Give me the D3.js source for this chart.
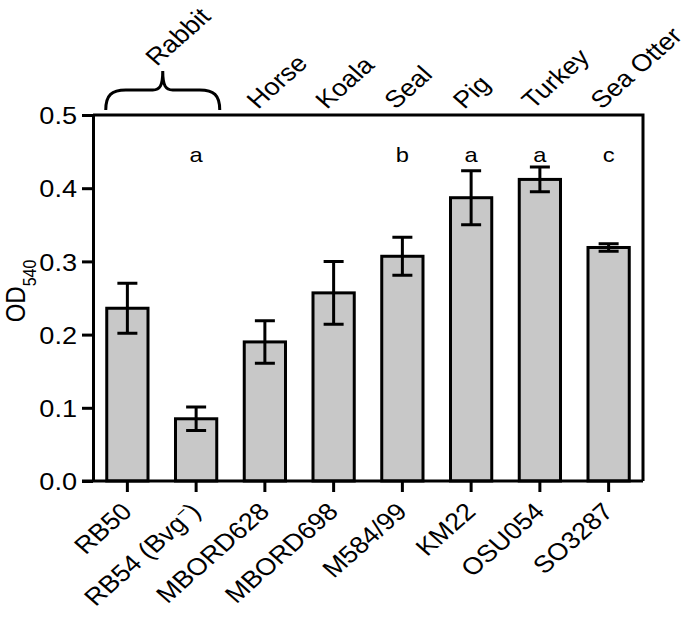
<!DOCTYPE html>
<html>
<head>
<meta charset="utf-8">
<script src="https://cdn.jsdelivr.net/npm/d3@7"></script>
<style>
  body { margin: 0; background: #fff; }
  svg text { font-family: Arial, "Liberation Sans", sans-serif; fill: #000; }
</style>
</head>
<body>
<div id="chart"></div>
<script>
// strains, host animals and readings
const strains = ['RB50', 'RB54', 'MBORD628', 'MBORD698', 'M584/99', 'KM22', 'OSU054', 'SO3287'];
const hosts = [null, null, 'Horse', 'Koala', 'Seal', 'Pig', 'Turkey', 'Sea Otter'];
const means = [0.236, 0.085, 0.190, 0.257, 0.307, 0.387, 0.412, 0.319];
const errors = [0.034, 0.016, 0.029, 0.043, 0.026, 0.037, 0.017, 0.005];
const letters = ['', 'a', '', '', 'b', 'a', 'a', 'c'];
const yTicks = [0, 0.1, 0.2, 0.3, 0.4, 0.5];

const width = 700, height = 625;
const plot = { left: 93, right: 643, top: 115, bottom: 481 };
const fontSize = '24px';
const stretch = 1.13; // the figure is a bit wider than tall

// text placement with the horizontal stretch of the original figure
const place = (px, py, angle) => `translate(${px},${py}) scale(${stretch},1) rotate(${angle || 0})`;

const svg = d3.select('#chart').append('svg')
  .attr('width', width)
  .attr('height', height);

const x = d3.scaleBand()
  .domain(strains)
  .range([plot.left, plot.right])
  .paddingInner(0.4)
  .paddingOuter(0.2);

const y = d3.scaleLinear()
  .domain([0, 0.5])
  .range([plot.bottom, plot.top]);

const mid = (d) => x(d) + x.bandwidth() / 2;

// bars
svg.append('g').selectAll('rect')
  .data(strains)
  .join('rect')
  .attr('x', (d) => x(d))
  .attr('y', (d, i) => y(means[i]))
  .attr('width', x.bandwidth())
  .attr('height', (d, i) => y(0) - y(means[i]))
  .attr('fill', '#c8c8c8')
  .attr('stroke', '#000')
  .attr('stroke-width', 3);

// error bars
const capHalf = 10;
const err = svg.append('g')
  .attr('stroke', '#000')
  .attr('stroke-width', 3)
  .attr('fill', 'none');
strains.forEach((s, i) => {
  const cx = mid(s);
  const hi = y(means[i] + errors[i]);
  const lo = y(means[i] - errors[i]);
  err.append('path')
    .attr('d', `M${cx},${hi}V${lo}M${cx - capHalf},${hi}H${cx + capHalf}M${cx - capHalf},${lo}H${cx + capHalf}`);
});

// y axis
const yAxis = svg.append('g')
  .attr('transform', `translate(${plot.left},0)`)
  .call(d3.axisLeft(y).tickValues(yTicks).tickFormat(d3.format('.1f')).tickSize(11).tickPadding(5).tickSizeOuter(0));
yAxis.select('.domain').attr('stroke-width', 3);
yAxis.selectAll('.tick line').attr('stroke-width', 3);
yAxis.selectAll('.tick text')
  .attr('x', 0)
  .attr('dy', '0.36em')
  .attr('transform', place(-16, 0))
  .style('font-size', fontSize);

// x axis
const xAxis = svg.append('g')
  .attr('transform', `translate(0,${plot.bottom})`)
  .call(d3.axisBottom(x).tickSize(11).tickSizeOuter(0).tickFormat(''));
xAxis.select('.domain').attr('stroke-width', 3).attr('d', `M${plot.left - 11},0H${plot.right}`);
xAxis.selectAll('.tick line').attr('stroke-width', 3);

// frame top and right
svg.append('path')
  .attr('d', `M${plot.left},${plot.top}H${plot.right}V${plot.bottom}`)
  .attr('fill', 'none')
  .attr('stroke', '#000')
  .attr('stroke-width', 3);

// x labels
const xl = svg.append('g').selectAll('text')
  .data(strains)
  .join('text')
  .attr('transform', (d) => place(mid(d) + 6, plot.bottom + 32, -45))
  .attr('text-anchor', 'end')
  .style('font-size', fontSize);
xl.each(function (d) {
  const t = d3.select(this);
  if (d === 'RB54') {
    t.append('tspan').text('RB54 (Bvg');
    t.append('tspan').attr('baseline-shift', 'super').style('font-size', '16px').text('\u2212');
    t.append('tspan').text(')');
  } else {
    t.text(d);
  }
});

// host labels on top
svg.append('g').selectAll('text')
  .data(strains.filter((d, i) => hosts[i]))
  .join('text')
  .attr('transform', (d) => place(mid(d) - 7, plot.top - 5, -45))
  .style('font-size', fontSize)
  .text((d) => hosts[strains.indexOf(d)]);

// rabbit brace
const bx0 = x('RB50') - 1, bx1 = x('RB54') + x.bandwidth() + 3;
const bm = (bx0 + bx1) / 2;
const by = 90, byEnd = 110, byTip = 71;
svg.append('path')
  .attr('d', `M${bx0},${byEnd}C${bx0},${by + 5} ${bx0 + 6},${by} ${bx0 + 20},${by}` +
    `L${bm - 10},${by}C${bm - 3},${by} ${bm},${by - 4} ${bm},${byTip}` +
    `C${bm},${by - 4} ${bm + 3},${by} ${bm + 10},${by}` +
    `L${bx1 - 20},${by}C${bx1 - 6},${by} ${bx1},${by + 5} ${bx1},${byEnd}`)
  .attr('fill', 'none')
  .attr('stroke', '#000')
  .attr('stroke-width', 3);
svg.append('text')
  .attr('transform', place(bm - 6, byTip - 4, -45))
  .style('font-size', fontSize)
  .text('Rabbit');

// significance letters
svg.append('g').selectAll('text')
  .data(strains)
  .join('text')
  .attr('transform', (d) => place(mid(d), y(0.436)))
  .attr('text-anchor', 'middle')
  .style('font-size', '21px')
  .text((d, i) => letters[i]);

// y title
const yt = svg.append('text')
  .attr('transform', place(25, (plot.top + plot.bottom) / 2 - 7, -90))
  .attr('text-anchor', 'middle')
  .style('font-size', fontSize);
yt.append('tspan').text('OD');
yt.append('tspan').attr('baseline-shift', 'sub').style('font-size', '16px').text('540');
</script>
</body>
</html>
